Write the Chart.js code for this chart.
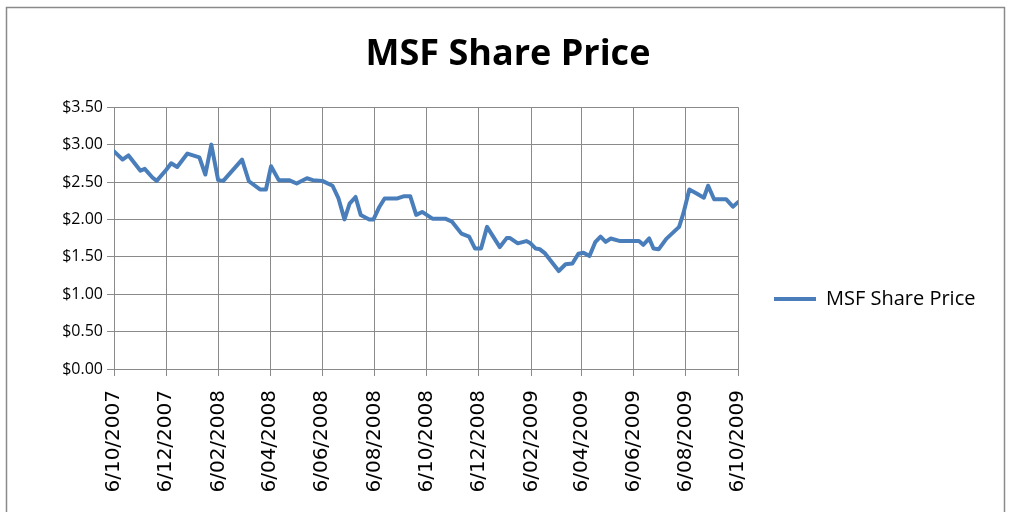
<!DOCTYPE html>
<html><head><meta charset="utf-8">
<script src="https://cdn.jsdelivr.net/npm/chart.js@4.4.1/dist/chart.umd.min.js"></script>
<style>html,body{margin:0;padding:0;background:#fff;overflow:hidden}#wrap{position:relative;width:1009px;height:512px}</style>
</head><body><div id="wrap"><canvas id="c" width="1009" height="512"></canvas></div>
<script>
const seriesName = 'MSF Share Price';
const dates = [
'2007-10-06','2007-10-16','2007-10-23','2007-11-06','2007-11-11','2007-11-20','2007-11-25','2007-12-06','2007-12-12','2007-12-19','2007-12-31',
'2008-01-14','2008-01-21','2008-01-28','2008-02-05','2008-02-11','2008-03-04','2008-03-12','2008-03-25','2008-04-01','2008-04-07','2008-04-16','2008-04-28',
'2008-05-07','2008-05-19','2008-05-26','2008-06-06','2008-06-18','2008-06-25','2008-07-02','2008-07-08','2008-07-15','2008-07-21','2008-07-31',
'2008-08-05','2008-08-12','2008-08-18','2008-09-02','2008-09-10','2008-09-17','2008-09-24','2008-10-01','2008-10-13','2008-10-28',
'2008-11-05','2008-11-16','2008-11-25','2008-12-02','2008-12-09','2008-12-16','2008-12-31',
'2009-01-08','2009-01-12','2009-01-21','2009-01-31','2009-02-05','2009-02-11','2009-02-16','2009-02-22','2009-03-10','2009-03-18','2009-03-26',
'2009-04-02','2009-04-08','2009-04-15','2009-04-22','2009-04-28','2009-05-04','2009-05-10','2009-05-21','2009-06-12','2009-06-17','2009-06-24','2009-06-29',
'2009-07-05','2009-07-14','2009-07-29','2009-08-03','2009-08-10','2009-08-18','2009-08-27','2009-09-01','2009-09-08','2009-09-22','2009-09-30','2009-10-06'
];
const prices = [
2.91,2.80,2.855,2.65,2.675,2.56,2.515,2.66,2.75,2.70,2.88,
2.83,2.60,3.00,2.525,2.515,2.80,2.51,2.40,2.40,2.71,2.525,2.525,
2.48,2.55,2.525,2.515,2.45,2.28,2.00,2.21,2.30,2.06,2.00,
2.00,2.17,2.28,2.28,2.31,2.31,2.06,2.10,2.01,2.01,
1.97,1.81,1.77,1.61,1.61,1.90,1.63,
1.75,1.75,1.68,1.71,1.68,1.61,1.60,1.545,1.31,1.40,1.41,
1.54,1.555,1.51,1.70,1.77,1.70,1.745,1.71,1.71,1.66,1.745,1.61,
1.60,1.74,1.90,2.08,2.40,2.35,2.29,2.45,2.27,2.27,2.17,2.23
];
const tickDates = ['2007-10-06','2007-12-06','2008-02-06','2008-04-06','2008-06-06','2008-08-06','2008-10-06','2008-12-06','2009-02-06','2009-04-06','2009-06-06','2009-08-06','2009-10-06'];
const tickLabels = ['6/10/2007','6/12/2007','6/02/2008','6/04/2008','6/06/2008','6/08/2008','6/10/2008','6/12/2008','6/02/2009','6/04/2009','6/06/2009','6/08/2009','6/10/2009'];
const yMin = 0, yMax = 3.5, yStep = 0.5;

function dayNum(s){const p=s.split('-').map(Number);return Date.UTC(p[0],p[1]-1,p[2])/86400000;}
const points = dates.map((d,i)=>({x:dayNum(d),y:prices[i]}));
const tickDays = tickDates.map(dayNum);

const legendFont = {family:'Open Sans', size:20};
const mctx = document.createElement('canvas').getContext('2d');
mctx.font = legendFont.size + 'px "Open Sans"';
const textW = mctx.measureText(seriesName).width;
const boxW = 42, labPad = 36;
const legendW = labPad + boxW + legendFont.size/2 + textW + 10;
const plotLeft = 114, plotRight = 738, titleCenter = 508, W = 1009;
const sideSum = W - plotRight;  // legend width + right padding
let padRight = sideSum - legendW;
let padLeft = 2*titleCenter - W + padRight;
if (legendW > (W - padLeft - padRight) / 4) {
  // Chart.js caps side boxes at availableWidth/4 here; solve for that case
  padRight = (4*sideSum - (2*W - 2*titleCenter)) / 2;
  padLeft = 2*titleCenter - W + padRight;
}
const yAxisW = plotLeft - padLeft;

const gridColor = '#8a8a8a';

const borderPlugin = {
  id:'outerBorder',
  afterLayout(chart){
    const lg = chart.legend;
    if (lg) { lg.right = chart.width; lg.width = lg.right - lg.left; }
  },
  beforeDraw(chart){
    const c = chart.ctx; c.save();
    c.fillStyle='#fff'; c.fillRect(0,0,chart.width,chart.height);
    c.strokeStyle='#8a8a8a'; c.lineWidth=1.5;
    c.strokeRect(6.5,7.5,998,600);
    c.restore();
  }
};

new Chart(document.getElementById('c'), {
  type:'line',
  data:{datasets:[{label:seriesName,data:points,borderColor:'#4A7EBB',backgroundColor:'#4A7EBB',borderWidth:4,pointRadius:0,tension:0,borderJoinStyle:'round',borderCapStyle:'round',fill:false}]},
  options:{
    responsive:false, animation:false, devicePixelRatio:1,
    layout:{padding:{left:padLeft,right:padRight,top:0,bottom:0}},
    plugins:{
      title:{display:true,text:'MSF Share Price',color:'#000',font:{family:'Open Sans',size:36,weight:'bold',lineHeight:1.2},padding:{top:33,bottom:31}},
      legend:{position:'right',align:'center',
        title:{display:true,text:'',font:{size:10,lineHeight:1},padding:{top:76,bottom:0}},
        labels:{usePointStyle:true,pointStyle:'line',pointStyleWidth:boxW,padding:labPad,color:'#000',font:legendFont}},
      tooltip:{enabled:false}
    },
    scales:{
      x:{type:'linear',min:tickDays[0],max:tickDays[tickDays.length-1],
        afterBuildTicks:s=>{s.ticks=tickDays.map(v=>({value:v}));},
        afterFit:s=>{s.height=143;},
        ticks:{autoSkip:false,minRotation:90,maxRotation:90,padding:14,color:'#000',font:{family:'DejaVu Sans',size:20},
          callback:(v,i)=>tickLabels[i]},
        grid:{color:gridColor,lineWidth:1,tickLength:7},
        border:{color:gridColor,width:1}},
      y:{min:yMin,max:yMax,
        afterFit:s=>{s.width=yAxisW;},
        ticks:{stepSize:yStep,padding:4,color:'#000',font:{family:'Open Sans',size:16},callback:v=>'$'+Number(v).toFixed(2)},
        grid:{color:gridColor,lineWidth:1,tickLength:7},
        border:{color:gridColor,width:1}}
    }
  },
  plugins:[borderPlugin]
});
</script></body></html>
